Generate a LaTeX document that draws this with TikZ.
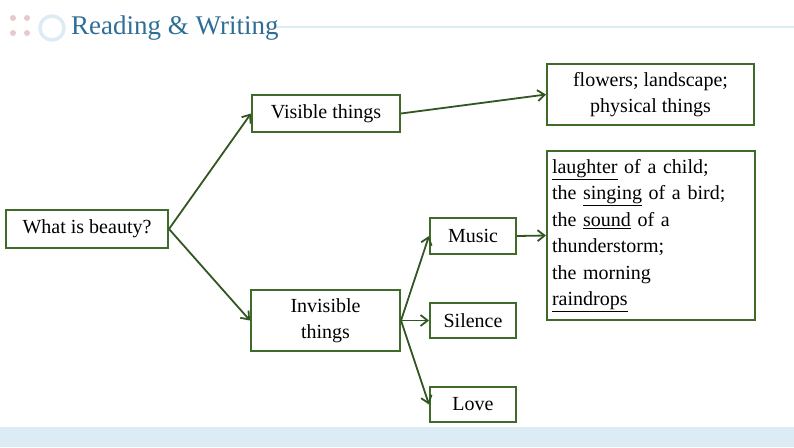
\documentclass[tikz,border=0pt]{standalone}
\usepackage{fontspec}
\setmainfont{Liberation Serif}
\usetikzlibrary{arrows.meta}
\definecolor{bx}{HTML}{3E6B2A}
\definecolor{ttl}{HTML}{2E6E96}
\definecolor{lb}{HTML}{DDEBF4}
\definecolor{dot}{HTML}{E8C8C8}
\begin{document}
\begin{tikzpicture}[x=1pt,y=-1pt,
  box/.style={draw=bx,line width=2pt,inner sep=0pt,font=\fontsize{20}{26}\selectfont,align=center},
  arr/.style={draw=bx!80!black,line width=1.8pt,-{Straight Barb[length=7pt,width=11pt]}}]
\useasboundingbox (0,0) rectangle (794,447);
\fill[lb] (0,427) rectangle (794,447);
\draw[lb,line width=2pt] (275,27) -- (794,27);
\foreach \p in {(13,18),(27,18),(13,33),(27,33)} \fill[dot] \p circle (3);
\draw[lb,line width=3.5pt] (52,28) circle (12);
\node[anchor=west,text=ttl,font=\fontsize{27}{30}\selectfont,inner sep=0pt] (t) at (71,28) {Reading \& Writing};
\node[box,minimum width=162,minimum height=38] (q) at (87,229) {What is beauty?};
\node[box,minimum width=148,minimum height=37] (v) at (326,113.5) {Visible things};
\node[box,minimum width=149,minimum height=61] (i) at (325.5,320.5) {Invisible\\things};
\node[box,minimum width=207,minimum height=61] (f) at (650.5,94.5) {flowers; landscape;\\physical things};
\node[box,minimum width=208,minimum height=169,align=left,text width=198,inner xsep=5pt,font=\fontsize{20}{26.5}\selectfont] (l) at (651,235.5) {\underline{laughter} of a child;\\the \underline{singing} of a bird;\\the \underline{sound} of a\\thunderstorm;\\the morning\\\underline{raindrops}};
\node[box,minimum width=86,minimum height=36] (m) at (473,236) {Music};
\node[box,minimum width=86,minimum height=35] (s) at (473,320.5) {Silence};
\node[box,minimum width=86,minimum height=35] (lo) at (473,404.5) {Love};
\draw[arr] (q.east) -- (v.west);
\draw[arr] (q.east) -- (i.west);
\draw[arr] (v.east) -- (f.west);
\draw[arr] (i.east) -- (m.west);
\draw[arr] (i.east) -- (s.west);
\draw[arr] (i.east) -- (lo.west);
\draw[arr] (m.east) -- (l.west);
\end{tikzpicture}
\end{document}
